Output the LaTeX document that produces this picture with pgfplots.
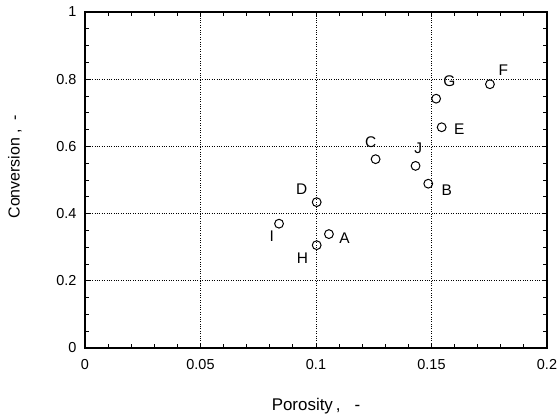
\documentclass[border=0pt]{standalone}
\usepackage{fontspec}
\setmainfont{Liberation Sans}
\usepackage{pgfplots}
\pgfplotsset{compat=1.18}
\begin{document}
\begin{tikzpicture}
\begin{axis}[
  scale only axis,
  width=462bp, height=336bp,
  xmin=0, xmax=0.2, ymin=0, ymax=1,
  xtick={0,0.05,0.1,0.15,0.2},
  xticklabels={0,0.05,0.1,0.15,0.2},
  ytick={0,0.2,0.4,0.6,0.8,1},
  yticklabels={0,0.2,0.4,0.6,0.8,1},
  /pgf/number format/assume math mode=true,
  minor x tick num=4,
  minor y tick num=3,
  tick align=inside,
  major tick length=5bp,
  minor tick length=4bp,
  tick style={black, line width=0.9bp},
  axis line style={line width=1.4bp},
  grid=major,
  major grid style={black, dotted, line width=0.9bp},
  ticklabel style={font=\fontsize{14.5}{15}\selectfont},
  xticklabel style={yshift=-8bp},
  yticklabel style={xshift=-5bp},
  xlabel={Porosity\,,\ \ \ -},
  ylabel={Conversion ,\ \ -},
  xlabel style={font=\fontsize{17}{19}\selectfont, yshift=-22bp},
  ylabel style={font=\fontsize{16}{18}\selectfont, at={(ticklabel cs:0.54)}, yshift=28bp},
]
\addplot[only marks, mark=o, mark size=4.4bp, mark options={line width=1bp, black}] coordinates {
  (0.1056,0.339) % A
  (0.1486,0.489) % B
  (0.1258,0.562) % C
  (0.1003,0.434) % D
  (0.1544,0.657) % E
  (0.1753,0.785) % F
  (0.1520,0.742) % G
  (0.1003,0.306) % H
  (0.0840,0.370) % I
  (0.1431,0.542) % J
};
\begin{scope}[every node/.style={font=\fontsize{15.5}{17}\selectfont}]
\node at (axis cs:0.1123,0.327) {A};
\node at (axis cs:0.1566,0.469) {B};
\node at (axis cs:0.1237,0.6125) {C};
\node at (axis cs:0.0938,0.474) {D};
\node at (axis cs:0.1620,0.652) {E};
\node at (axis cs:0.1811,0.827) {F};
\node at (axis cs:0.1577,0.795) {G};
\node at (axis cs:0.0941,0.268) {H};
\node at (axis cs:0.0808,0.334) {I};
\node at (axis cs:0.1443,0.593) {J};
\end{scope}
\end{axis}
\pgfresetboundingbox
\path (current axis.south west) ++(-85bp,-71bp) rectangle ++(559bp,419bp);
\end{tikzpicture}
\end{document}
